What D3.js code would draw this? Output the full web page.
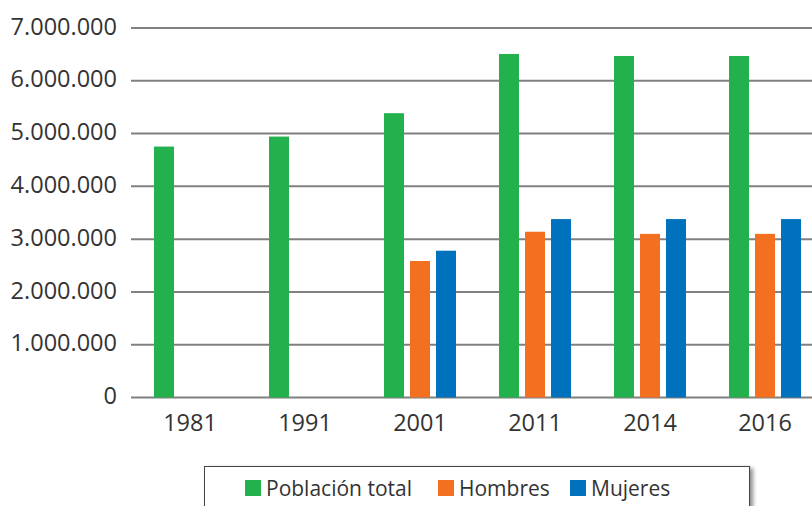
<!DOCTYPE html>
<html>
<head>
<meta charset="utf-8">
<script src="https://cdn.jsdelivr.net/npm/d3@7"></script>
<style>
    body { margin: 0; background: #fff; }
    svg { display: block; font-family: "Open Sans", sans-serif; }
    .tick-label { fill: #333; font-size: 23.5px; }
    .legend-label { fill: #333; font-size: 21px; }
</style>
</head>
<body>
<div id="chart"></div>
<script>
var years = ["1981", "1991", "2001", "2011", "2014", "2016"];
var seriesNames = ["Población total", "Hombres", "Mujeres"];
var seriesColors = ["#23b14d", "#f37021", "#0071bc"];
var total = [4754000, 4943000, 5386000, 6508000, 6470000, 6470000];
var hombres = [null, null, 2586000, 3140000, 3100000, 3100000];
var mujeres = [null, null, 2781000, 3380000, 3380000, 3380000];
var yTicks = [0, 1000000, 2000000, 3000000, 4000000, 5000000, 6000000, 7000000];

var W = 812, H = 506;
// plot area
var plotLeft = 131, plotTop = 28, plotBottom = 397.5;

var svg = d3.select("#chart")
    .append("svg")
    .attr("width", W)
    .attr("height", H);

var y = d3.scaleLinear()
    .domain([0, 7000000])
    .range([plotBottom, plotTop]);

var x0 = d3.scaleBand()
    .domain(years)
    .range([132.5, 822.5]);

var x1 = d3.scaleBand()
    .domain(seriesNames)
    .range([0, 72])
    .paddingInner(6 / 26);

var fmt = function(v) {
    return d3.format(",")(v).replace(/,/g, ".");
};

// gridlines
svg.append("g")
    .selectAll("line")
    .data(yTicks)
    .enter()
    .append("line")
    .attr("x1", plotLeft)
    .attr("x2", W)
    .attr("y1", function(d) { return y(d); })
    .attr("y2", function(d) { return y(d); })
    .attr("stroke", "#808080")
    .attr("stroke-width", 2);

// y tick labels
svg.append("g")
    .selectAll("text")
    .data(yTicks)
    .enter()
    .append("text")
    .attr("class", "tick-label")
    .attr("x", 117)
    .attr("y", function(d) { return y(d); })
    .attr("dy", "0.28em")
    .attr("text-anchor", "end")
    .text(fmt);

// x labels
svg.append("g")
    .selectAll("text")
    .data(years)
    .enter()
    .append("text")
    .attr("class", "tick-label")
    .attr("x", function(d) { return x0(d) + x0.bandwidth() / 2; })
    .attr("y", 431)
    .attr("text-anchor", "middle")
    .text(function(d) { return d; });

// bars
var allSeries = [total, hombres, mujeres];
var rows = [];
years.forEach(function(yr, i) {
    allSeries.forEach(function(s, j) {
        if (s[i] != null) rows.push({ year: yr, key: seriesNames[j], value: s[i], color: seriesColors[j] });
    });
});

var groupOffset = (x0.bandwidth() - 72) / 2;

svg.append("g")
    .selectAll("rect")
    .data(rows)
    .enter()
    .append("rect")
    .attr("x", function(d) { return x0(d.year) + groupOffset + x1(d.key); })
    .attr("y", function(d) { return y(d.value); })
    .attr("width", x1.bandwidth())
    .attr("height", function(d) { return y(0) - y(d.value); })
    .attr("fill", function(d) { return d.color; });

// legend
var defs = svg.append("defs");
var filter = defs.append("filter")
    .attr("id", "drop-shadow")
    .attr("width", "130%")
    .attr("height", "150%");
filter.append("feGaussianBlur")
    .attr("in", "SourceAlpha")
    .attr("stdDeviation", 2)
    .attr("result", "blur");
filter.append("feOffset")
    .attr("in", "blur")
    .attr("dx", 3)
    .attr("dy", 2)
    .attr("result", "offsetBlur");
filter.append("feComponentTransfer")
    .append("feFuncA")
    .attr("type", "linear")
    .attr("slope", 0.45);
var feMerge = filter.append("feMerge");
feMerge.append("feMergeNode");
feMerge.append("feMergeNode").attr("in", "SourceGraphic");

var legend = svg.append("g").attr("transform", "translate(204,466)");
legend.append("rect")
    .attr("x", 0.5)
    .attr("y", 0.5)
    .attr("width", 545)
    .attr("height", 60)
    .attr("fill", "#fff")
    .attr("stroke", "#444")
    .attr("stroke-width", 1)
    .style("filter", "url(#drop-shadow)");

var legendX = [41, 234, 366];
seriesNames.forEach(function(name, i) {
    var g = legend.append("g").attr("transform", "translate(" + legendX[i] + ",0)");
    g.append("rect")
        .attr("x", 0)
        .attr("y", 14)
        .attr("width", 16)
        .attr("height", 16)
        .attr("fill", seriesColors[i]);
    g.append("text")
        .attr("class", "legend-label")
        .attr("x", 21)
        .attr("y", 22)
        .attr("dy", "0.36em")
        .text(name);
});
</script>
</body>
</html>
